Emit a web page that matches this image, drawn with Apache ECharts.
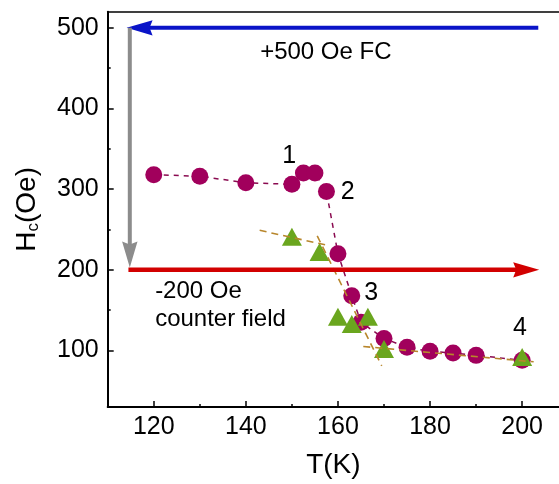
<!DOCTYPE html>
<html>
<head>
<meta charset="utf-8">
<script src="https://cdn.jsdelivr.net/npm/echarts@6/dist/echarts.min.js"></script>
<style>
  html, body { margin: 0; padding: 0; background: #fff; }
  #chart { width: 559px; height: 484px; }
</style>
</head>
<body>
<div id="chart"></div>
<script>
// Hc vs T, circles (FC sweep) and triangles
const circleT = [120, 130, 140, 150, 152.5, 155, 157.5, 160, 163, 165, 170, 175, 180, 185, 190, 200]
const circleH = [318, 316, 308, 306, 320, 320, 297, 220, 168, 135, 115, 104, 99, 97, 94, 88]
const triT = [150, 156, 160, 163, 166.5, 170, 200]
const triH = [241, 222, 142, 133, 142, 102, 92]

// dashed guide lines (end points)
const fitA = [[143, 249], [158, 230]]
const fitB = [[155.5, 242], [169.5, 81]]
const fitC = [[165.5, 105], [202.5, 86]]

// field arrows: [fromT, fromH, toT, toH]
const arrows = [
  [203.5, 500, 114.1, 500],
  [114.8, 500, 114.8, 203],
  [114.5, 200, 203.7, 200],
]
const arrowColors = ['#0a14c8', '#8c8c8c', '#d20000']

// text notes: [T, H]
const notePos = [[143.1, 469], [120.3, 173], [120.3, 138]]
const noteText = ['+500 Oe FC', '-200 Oe', 'counter field']
const numPos = [[149.4, 341], [162.1, 296], [167.2, 171], [199.5, 128]]
const numText = ['1', '2', '3', '4']

const xMajor = [120, 140, 160, 180, 200]
const xMinor = [130, 150, 170, 190]
const yMajor = [100, 200, 300, 400, 500]
const yMinor = [150, 250, 350, 450]

const font = 'Liberation Sans, Arial, sans-serif'
const chart = echarts.init(document.getElementById('chart'))

const zip = (a, b) => a.map((v, i) => [v, b[i]])
const fitStyle = { color: '#b8862b', width: 1.6, type: [7, 5] }

chart.setOption({
  animation: false,
  grid: { left: 107.7, top: 11.7, right: 0, bottom: 76.3 },
  textStyle: { fontFamily: font },
  xAxis: [
    {
      type: 'value', position: 'bottom', min: 110, max: 208,
      name: 'T(K)', nameLocation: 'middle', nameGap: 44,
      nameTextStyle: { fontSize: 28, color: '#000', fontFamily: font },
      axisLine: { onZero: false, lineStyle: { color: '#000', width: 2 } },
      axisTick: { inside: true, length: 6, customValues: xMajor, lineStyle: { color: '#000', width: 1.5 } },
      axisLabel: { customValues: xMajor, fontSize: 25, color: '#000', margin: 8, fontFamily: font },
      splitLine: { show: false },
    },
    {
      type: 'value', position: 'bottom', min: 110, max: 208,
      axisLine: { show: false },
      axisTick: { inside: true, length: 3, customValues: xMinor, lineStyle: { color: '#000', width: 1.5 } },
      axisLabel: { show: false },
      splitLine: { show: false },
    },
    {
      type: 'value', position: 'top', min: 110, max: 208,
      axisLine: { onZero: false, lineStyle: { color: '#000', width: 1.7 } },
      axisTick: { show: false },
      axisLabel: { show: false },
      splitLine: { show: false },
    },
  ],
  yAxis: [
    {
      type: 'value', position: 'left', min: 30, max: 520,
      name: '{a|H}{b|c}{a|(Oe)}', nameLocation: 'middle', nameGap: 66,
      nameTextStyle: {
        color: '#000', fontFamily: font,
        rich: {
          a: { fontSize: 28, color: '#000', fontFamily: font, verticalAlign: 'bottom' },
          b: { fontSize: 17, color: '#000', fontFamily: font, verticalAlign: 'bottom' },
        },
      },
      axisLine: { onZero: false, lineStyle: { color: '#000', width: 2 } },
      axisTick: { inside: true, length: 6, customValues: yMajor, lineStyle: { color: '#000', width: 1.5 } },
      axisLabel: { customValues: yMajor, fontSize: 25, color: '#000', margin: 9, fontFamily: font },
      splitLine: { show: false },
    },
    {
      type: 'value', position: 'left', min: 30, max: 520,
      axisLine: { show: false },
      axisTick: { inside: true, length: 3, customValues: yMinor, lineStyle: { color: '#000', width: 1.5 } },
      axisLabel: { show: false },
      splitLine: { show: false },
    },
  ],
  series: [
    {
      type: 'line', data: zip(circleT, circleH), symbol: 'circle', symbolSize: 17,
      itemStyle: { color: '#a1005c' },
      lineStyle: { color: '#8a0a50', width: 1.5, type: [5, 5] },
      z: 2,
    },
    {
      type: 'scatter', data: zip(triT, triH), symbol: 'triangle', symbolSize: [20, 18],
      itemStyle: { color: '#6aa61e', opacity: 1 }, z: 3,
    },
    { type: 'line', data: fitA, symbol: 'none', lineStyle: fitStyle, z: 4 },
    { type: 'line', data: fitB, symbol: 'none', lineStyle: fitStyle, z: 4 },
    { type: 'line', data: fitC, symbol: 'none', lineStyle: fitStyle, z: 4 },
    {
      type: 'custom', data: arrows, encode: { x: [0, 2], y: [1, 3] }, z: 5,
      renderItem: (params, api) => {
        const p1 = api.coord([api.value(0), api.value(1)])
        const p2 = api.coord([api.value(2), api.value(3)])
        const dx = p2[0] - p1[0], dy = p2[1] - p1[1]
        const len = Math.hypot(dx, dy)
        const ux = dx / len, uy = dy / len
        const L = 26, W = 7.7
        const bx = p2[0] - ux * L, by = p2[1] - uy * L
        const color = arrowColors[params.dataIndex]
        return {
          type: 'group',
          children: [
            { type: 'line', shape: { x1: p1[0], y1: p1[1], x2: bx + ux * 4, y2: by + uy * 4 }, style: { stroke: color, lineWidth: params.dataIndex === 2 ? 4.5 : 4 } },
            { type: 'polygon', shape: { points: [[p2[0], p2[1]], [bx - uy * W, by + ux * W], [bx + ux * 3, by + uy * 3], [bx + uy * W, by - ux * W]] }, style: { fill: color } },
          ],
        }
      },
    },
    {
      type: 'scatter', symbolSize: 0, z: 6, silent: true,
      itemStyle: { opacity: 1 },
      data: notePos.map((p, i) => ({ value: p, label: { formatter: noteText[i] } })),
      label: { show: true, position: 'right', distance: 0, fontSize: 24, color: '#000', opacity: 1, fontFamily: font },
    },
    {
      type: 'scatter', symbolSize: 0, z: 6, silent: true,
      itemStyle: { opacity: 1 },
      data: numPos.map((p, i) => ({ value: p, label: { formatter: numText[i] } })),
      label: { show: true, position: 'inside', fontSize: 25, color: '#000', opacity: 1, fontFamily: font },
    },
  ],
})
</script>
</body>
</html>
